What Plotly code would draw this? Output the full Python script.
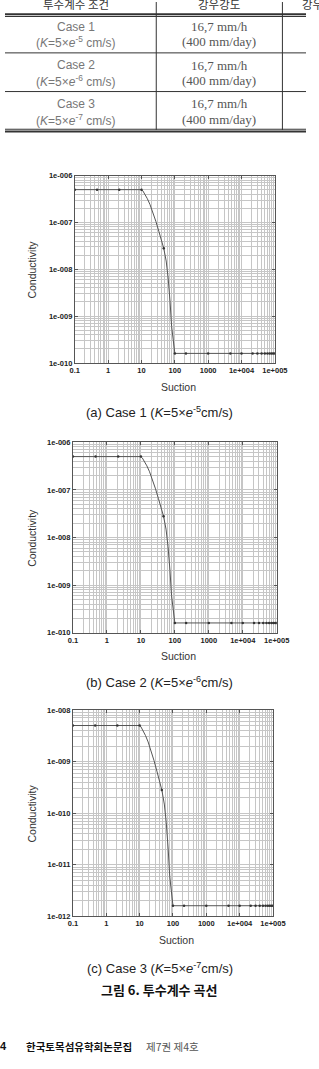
import plotly.graph_objects as go

W, H = 319, 1069

# ---------------- data ----------------
x_tickvals = [0.1, 1, 10, 100, 1000, 10000, 100000]
x_ticktext = ["0.1", "1", "10", "100", "1000", "1e+004", "1e+005"]

y_tickvals_12 = [1e-10, 1e-9, 1e-8, 1e-7, 1e-6]
y_ticktext_12 = ["1e-010", "1e-009", "1e-008", "1e-007", "1e-006"]
y_tickvals_3 = [1e-12, 1e-11, 1e-10, 1e-9, 1e-8]
y_ticktext_3 = ["1e-012", "1e-011", "1e-010", "1e-009", "1e-008"]

suction_line = [0.1, 0.464, 2.15, 10, 11, 12.5, 15, 18, 22, 27, 33, 40, 46.4, 55, 63, 72, 80,
                100, 215, 1000, 4640, 10000, 21500, 30000, 40000, 50000, 60000, 70000, 80000,
                90000, 100000]
k_line_1 = [5e-7, 5e-7, 5e-7, 5e-7, 4.7e-7, 4.1e-7, 3.2e-7, 2.4e-7, 1.65e-7, 1.05e-7, 6.5e-8,
            4.0e-8, 2.8e-8, 1.5e-8, 6.5e-9, 2.0e-9, 6e-10,
            1.6e-10, 1.6e-10, 1.6e-10, 1.6e-10, 1.6e-10, 1.6e-10, 1.6e-10, 1.6e-10, 1.6e-10,
            1.6e-10, 1.6e-10, 1.6e-10, 1.6e-10, 1.6e-10]
k_line_2 = [5e-7, 5e-7, 5e-7, 5e-7, 4.7e-7, 4.1e-7, 3.2e-7, 2.4e-7, 1.65e-7, 1.05e-7, 6.5e-8,
            4.0e-8, 2.8e-8, 1.5e-8, 6.5e-9, 2.0e-9, 6e-10,
            1.6e-10, 1.6e-10, 1.6e-10, 1.6e-10, 1.6e-10, 1.6e-10, 1.6e-10, 1.6e-10, 1.6e-10,
            1.6e-10, 1.6e-10, 1.6e-10, 1.6e-10, 1.6e-10]
k_line_3 = [5e-9, 5e-9, 5e-9, 5e-9, 4.7e-9, 4.1e-9, 3.2e-9, 2.4e-9, 1.65e-9, 1.05e-9, 6.5e-10,
            4.0e-10, 2.8e-10, 1.5e-10, 6.5e-11, 2.0e-11, 6e-12,
            1.6e-12, 1.6e-12, 1.6e-12, 1.6e-12, 1.6e-12, 1.6e-12, 1.6e-12, 1.6e-12, 1.6e-12,
            1.6e-12, 1.6e-12, 1.6e-12, 1.6e-12, 1.6e-12]

suction_pts = [0.1, 0.464, 2.15, 10, 46.4, 100, 215, 1000, 4640, 10000, 21500, 30000, 40000,
               50000, 60000, 70000, 80000, 90000, 100000]
k_pts_1 = [5e-7, 5e-7, 5e-7, 5e-7, 2.8e-8, 1.6e-10, 1.6e-10, 1.6e-10, 1.6e-10, 1.6e-10,
           1.6e-10, 1.6e-10, 1.6e-10, 1.6e-10, 1.6e-10, 1.6e-10, 1.6e-10, 1.6e-10, 1.6e-10]
k_pts_2 = [5e-7, 5e-7, 5e-7, 5e-7, 2.8e-8, 1.6e-10, 1.6e-10, 1.6e-10, 1.6e-10, 1.6e-10,
           1.6e-10, 1.6e-10, 1.6e-10, 1.6e-10, 1.6e-10, 1.6e-10, 1.6e-10, 1.6e-10, 1.6e-10]
k_pts_3 = [5e-9, 5e-9, 5e-9, 5e-9, 2.8e-10, 1.6e-12, 1.6e-12, 1.6e-12, 1.6e-12, 1.6e-12,
           1.6e-12, 1.6e-12, 1.6e-12, 1.6e-12, 1.6e-12, 1.6e-12, 1.6e-12, 1.6e-12, 1.6e-12]

captions = ["(a) Case 1 (<i>K</i>=5×<i>e</i><sup>-5</sup>cm/s)",
            "(b) Case 2 (<i>K</i>=5×<i>e</i><sup>-6</sup>cm/s)",
            "(c) Case 3 (<i>K</i>=5×<i>e</i><sup>-7</sup>cm/s)"]
figure_title = "그림 6. 투수계수 곡선"

table_header = ["투수계수 조건", "강우강도", "강우시간"]
table_case = ["Case 1", "Case 2", "Case 3"]
table_k = ["(<i>K</i>=5×<i>e</i><sup>-5</sup> cm/s)",
           "(<i>K</i>=5×<i>e</i><sup>-6</sup> cm/s)",
           "(<i>K</i>=5×<i>e</i><sup>-7</sup> cm/s)"]
table_rain1 = ["16,7 mm/h", "16,7 mm/h", "16,7 mm/h"]
table_rain2 = ["(400 mm/day)", "(400 mm/day)", "(400 mm/day)"]

footer_bold = "한국토목섬유학회논문집"
footer_norm = "제7권 제4호"
page_no = "4"

# ---------------- layout helpers ----------------
def fx(px):
    return px / W

def fy(py):
    return 1 - py / H

# plot boxes in pixels: (left, right, top, bottom)
boxes = [(74, 286, 173, 362), (72, 288, 442, 634), (72, 284, 712, 920)]
y_ranges = [[-10, -6], [-10, -6], [-12, -8]]
y_ticks = [(y_tickvals_12, y_ticktext_12), (y_tickvals_12, y_ticktext_12),
           (y_tickvals_3, y_ticktext_3)]
lines = [k_line_1, k_line_2, k_line_3]
pts = [k_pts_1, k_pts_2, k_pts_3]

fig = go.Figure()
GRID = "#c6c6c6"
FRAME = "#555555"
tickfont = dict(family="Liberation Sans", size=7.5, color="#222222", weight="bold")

layout = dict(width=W, height=H, margin=dict(l=0, r=0, t=0, b=0),
              paper_bgcolor="white", plot_bgcolor="white", showlegend=False)

annotations = []
shapes = []

for i in range(3):
    n = "" if i == 0 else str(i + 1)
    xa, ya = "x" + n, "y" + n
    fig.add_trace(go.Scatter(x=suction_line, y=lines[i], mode="lines",
                             line=dict(color="#555555", width=1),
                             xaxis=xa, yaxis=ya, hoverinfo="skip"))
    fig.add_trace(go.Scatter(x=suction_pts, y=pts[i], mode="markers",
                             marker=dict(color="#333333", size=2.5, symbol="circle"),
                             xaxis=xa, yaxis=ya))
    l, r, t, b = boxes[i]
    layout["xaxis" + n] = dict(
        type="log", range=[-1, 5], domain=[fx(l), fx(r)], anchor=ya,
        tickmode="array", tickvals=x_tickvals, ticktext=x_ticktext,
        tickfont=tickfont, ticks="inside", ticklen=3, tickcolor=FRAME,
        showgrid=True, gridcolor=GRID, gridwidth=1,
        minor=dict(dtick="D1", showgrid=True, gridcolor=GRID, gridwidth=1, ticks=""),
        showline=True, linecolor=FRAME, linewidth=1, mirror="ticks",
        zeroline=False, fixedrange=True)
    tv, tt = y_ticks[i]
    layout["yaxis" + n] = dict(
        type="log", range=y_ranges[i], domain=[fy(b), fy(t)], anchor=xa,
        tickmode="array", tickvals=tv, ticktext=tt,
        tickfont=tickfont, ticks="inside", ticklen=3, tickcolor=FRAME,
        showgrid=True, gridcolor=GRID, gridwidth=1,
        minor=dict(dtick="D1", showgrid=True, gridcolor=GRID, gridwidth=1, ticks=""),
        showline=True, linecolor=FRAME, linewidth=1, mirror="ticks",
        zeroline=False, fixedrange=True)

    # axis titles
    annotations.append(dict(text="Suction", x=fx((l + r) / 2 + 4), y=fy(b + 24),
                            xref="paper", yref="paper", showarrow=False,
                            xanchor="center", yanchor="middle",
                            font=dict(family="Liberation Sans", size=10.5, color="#333333")))
    annotations.append(dict(text="Conductivity", x=fx(29), y=fy((t + b) / 2),
                            xref="paper", yref="paper", showarrow=False, textangle=-90,
                            xanchor="center", yanchor="middle",
                            font=dict(family="Liberation Sans", size=10.5, color="#333333")))
    cap_y = [411.7, 684, 971.7][i]
    annotations.append(dict(text=captions[i], x=fx(164), y=fy(cap_y),
                            xref="paper", yref="paper", showarrow=False,
                            xanchor="center", yanchor="middle",
                            font=dict(family="Liberation Sans", size=13, color="#222222")))

annotations.append(dict(text=figure_title, x=fx(163), y=fy(994),
                        xref="paper", yref="paper", showarrow=False,
                        xanchor="center", yanchor="middle",
                        font=dict(family="Noto Sans CJK KR", size=13, color="#111111",
                                  weight="bold")))

# ---------------- table ----------------
LINEC = "#333333"
def hline(py, w, x0=0, x1=W):
    shapes.append(dict(type="line", xref="paper", yref="paper", x0=fx(x0), x1=fx(x1),
                       y0=fy(py), y1=fy(py), line=dict(color=LINEC, width=w)))

def vline(px, y0, y1, w=1):
    shapes.append(dict(type="line", xref="paper", yref="paper", x0=fx(px), x1=fx(px),
                       y0=fy(y0), y1=fy(y1), line=dict(color=LINEC, width=w)))

hline(10.3, 2)
hline(12.6, 1)
hline(49.3, 1)
hline(88.3, 1)
hline(126.3, 1)
hline(128.6, 2)
vline(160.3, -2, 127)
vline(294, -2, 127)

hdr_x = [75, 227, 313]
hdr_anchor = ["center", "center", "left"]
for j, h in enumerate(table_header):
    annotations.append(dict(text=h, x=fx(hdr_x[j]), y=fy(0), xref="paper", yref="paper",
                            showarrow=False, xanchor=hdr_anchor[j], yanchor="middle",
                            font=dict(family="Noto Sans CJK KR", size=11.5, color="#333333")))

row_y1 = [22.7, 61.7, 100.7]
row_y2 = [38.3, 77.3, 116.7]
for j in range(3):
    annotations.append(dict(text=table_case[j], x=fx(75), y=fy(row_y1[j]), xref="paper",
                            yref="paper", showarrow=False, xanchor="center", yanchor="middle",
                            font=dict(family="Liberation Sans", size=12, color="#777777")))
    annotations.append(dict(text=table_k[j], x=fx(75), y=fy(row_y2[j]), xref="paper",
                            yref="paper", showarrow=False, xanchor="center", yanchor="middle",
                            font=dict(family="Liberation Sans", size=12, color="#777777")))
    annotations.append(dict(text=table_rain1[j], x=fx(227), y=fy(row_y1[j]), xref="paper",
                            yref="paper", showarrow=False, xanchor="center", yanchor="middle",
                            font=dict(family="Liberation Serif", size=13, color="#555555")))
    annotations.append(dict(text=table_rain2[j], x=fx(227), y=fy(row_y2[j]), xref="paper",
                            yref="paper", showarrow=False, xanchor="center", yanchor="middle",
                            font=dict(family="Liberation Serif", size=13, color="#555555")))

# ---------------- footer ----------------
annotations.append(dict(text=footer_bold, x=fx(20), y=fy(1051), xref="paper", yref="paper",
                        showarrow=False, xanchor="left", yanchor="middle",
                        font=dict(family="Noto Sans CJK KR", size=10.5, color="#111111",
                                  weight="bold")))
annotations.append(dict(text=footer_norm, x=fx(147), y=fy(1051), xref="paper", yref="paper",
                        showarrow=False, xanchor="left", yanchor="middle",
                        font=dict(family="Noto Sans CJK KR", size=10.5, color="#555555")))
annotations.append(dict(text=page_no, x=fx(4), y=fy(1051), xref="paper", yref="paper",
                        showarrow=False, xanchor="right", yanchor="middle",
                        font=dict(family="Liberation Sans", size=11, color="#111111",
                                  weight="bold")))

layout["annotations"] = annotations
layout["shapes"] = shapes
fig.update_layout(**layout)
fig.write_html("out.html")
